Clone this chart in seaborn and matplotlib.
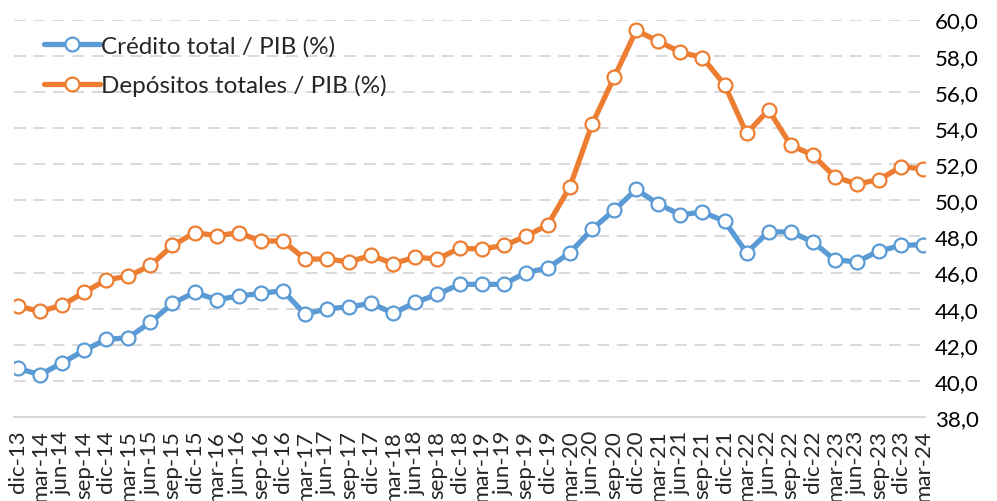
import matplotlib
matplotlib.use("Agg")
import matplotlib.pyplot as plt
import seaborn as sns
import pandas as pd

labels = ["dic-13","mar-14","jun-14","sep-14","dic-14","mar-15","jun-15","sep-15","dic-15",
          "mar-16","jun-16","sep-16","dic-16","mar-17","jun-17","sep-17","dic-17",
          "mar-18","jun-18","sep-18","dic-18","mar-19","jun-19","sep-19","dic-19",
          "mar-20","jun-20","sep-20","dic-20","mar-21","jun-21","sep-21","dic-21",
          "mar-22","jun-22","sep-22","dic-22","mar-23","jun-23","sep-23","dic-23","mar-24"]

credito = [40.7, 40.35, 41.0, 41.7, 42.3, 42.4, 43.25, 44.3, 44.9,
           44.5, 44.7, 44.85, 45.0, 43.7, 44.0, 44.1, 44.3,
           43.75, 44.35, 44.8, 45.35, 45.35, 45.35, 46.0, 46.25,
           47.1, 48.4, 49.45, 50.6, 49.8, 49.2, 49.35, 48.85,
           47.1, 48.25, 48.25, 47.7, 46.7, 46.6, 47.2, 47.5, 47.55]

depositos = [44.15, 43.85, 44.2, 44.9, 45.6, 45.8, 46.4, 47.5, 48.2,
             48.05, 48.2, 47.75, 47.75, 46.75, 46.75, 46.6, 46.95,
             46.5, 46.85, 46.75, 47.35, 47.3, 47.5, 48.0, 48.65,
             50.75, 54.2, 56.8, 59.4, 58.8, 58.2, 57.9, 56.4,
             53.7, 55.0, 53.05, 52.5, 51.3, 50.9, 51.15, 51.85, 51.75]

series_names = ["Crédito total / PIB (%)", "Depósitos totales / PIB (%)"]
colors = ["#5B9BD5", "#ED7D31"]
yticks = [38, 40, 42, 44, 46, 48, 50, 52, 54, 56, 58, 60]

sns.set_style("white")
plt.rcParams["font.family"] = ["Lato", "DejaVu Sans"]

fig = plt.figure(figsize=(9.97, 5.02), dpi=100)
ax = fig.add_axes([0.014, 0.167, 0.914, 0.792])

idx = list(range(len(labels)))
df = pd.DataFrame({"i": idx, "credito": credito, "depositos": depositos})

for col, name, c in zip(["credito", "depositos"], series_names, colors):
    sns.lineplot(data=df, x="i", y=col, ax=ax, color=c, linewidth=3.8,
                 marker="o", markersize=10, markerfacecolor="white",
                 markeredgecolor=c, markeredgewidth=1.6, label=name, zorder=3)

ax.set_xlim(-0.18, 41.09)
ax.set_ylim(38, 60)
ax.set_yticks(yticks)
ax.set_yticklabels([f"{v:.1f}".replace(".", ",") for v in yticks], fontsize=16)
ax.yaxis.tick_right()
ax.tick_params(axis="y", length=0, pad=7, labelcolor="#000000")
ax.set_xticks(idx)
ax.set_xticklabels(labels, rotation=90, fontsize=16)
ax.tick_params(axis="x", length=6, width=1.2, color="#D9D9D9", pad=3)
ax.set_xlabel("")
ax.set_ylabel("")

for v in yticks[1:]:
    ax.axhline(v, color="#D9D9D9", linewidth=1.4, linestyle=(0, (6, 4)), zorder=1)

for s in ["top", "left", "right"]:
    ax.spines[s].set_visible(False)
ax.spines["bottom"].set_color("#D9D9D9")
ax.spines["bottom"].set_linewidth(1.5)

leg = ax.legend(loc="upper left", bbox_to_anchor=(0.022, 0.985), frameon=False,
                fontsize=17.5, handlelength=2.3, handletextpad=0.05,
                labelspacing=0.72, borderaxespad=0)

fig.savefig("out.png", dpi=100)
